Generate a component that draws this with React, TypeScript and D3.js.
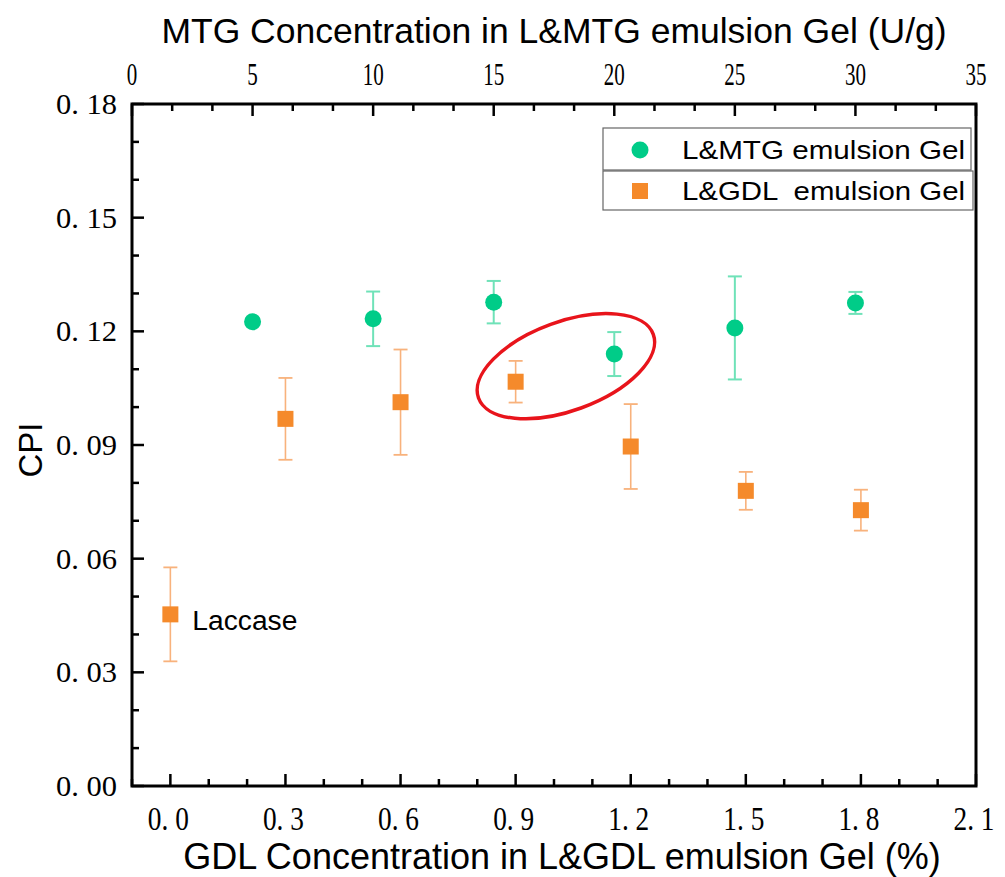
import React from "react";
import * as d3 from "d3";

// ---------- data ----------
const mtgConc = [5, 10, 15, 20, 25, 30];
const mtgCPI = [0.1225, 0.1233, 0.1277, 0.114, 0.1209, 0.1275];
const mtgErr = [0.0009, 0.0072, 0.0056, 0.0058, 0.0136, 0.0029];

const gdlConc = [0, 0.3, 0.6, 0.9, 1.2, 1.5, 1.8];
const gdlCPI = [0.0453, 0.0969, 0.1013, 0.1067, 0.0896, 0.0779, 0.0728];
const gdlErr = [0.0124, 0.0108, 0.0139, 0.0055, 0.0112, 0.005, 0.0054];

const yTicks = [0, 0.03, 0.06, 0.09, 0.12, 0.15, 0.18];
const yTickLabels = ["0. 00", "0. 03", "0. 06", "0. 09", "0. 12", "0. 15", "0. 18"];
const bottomTicks = [0, 0.3, 0.6, 0.9, 1.2, 1.5, 1.8, 2.1];
const bottomTickLabels = ["0. 0", "0. 3", "0. 6", "0. 9", "1. 2", "1. 5", "1. 8", "2. 1"];
const topTicks = [0, 5, 10, 15, 20, 25, 30, 35];
const topTickLabels = ["0", "5", "10", "15", "20", "25", "30", "35"];

const seriesNames = ["L&MTG emulsion Gel", "L&GDL  emulsion Gel"];
const laccaseLabel = "Laccase";
// highlighted ellipse annotation (centre in bottom-axis / CPI units)
const ellipseCenter = [1.031, 0.1108];

// ---------- layout ----------
const W = 1005;
const H = 877;
const L = 132, R = 976, T = 104, B = 786;

const GREEN = "#00cc88";
const GREEN_ERR = "#6fe2b8";
const ORANGE = "#f58a2b";
const ORANGE_ERR = "#f8b27c";

export default function App() {
  const y = d3.scaleLinear().domain([0, 0.18]).range([B, T]);
  const xb = d3.scaleLinear().domain([-0.1, 2.1]).range([L, R]);
  const xt = d3.scaleLinear().domain([0, 35]).range([L, R]);

  const yMinor = d3.range(0, 19).map((i) => i * 0.01).filter((v) => Math.round(v * 100) % 3 !== 0);
  const bMinor = d3.range(-1, 22).map((i) => i / 10).filter((v) => Math.round(v * 10) % 3 !== 0);
  const tMinor = d3.range(0, 22).map((i) => (i * 5) / 3).filter((_, i) => i % 3 !== 0);

  const tickW = 2.5;
  const major = 12;
  const minor = 7;
  const serif = "'Liberation Serif', 'DejaVu Serif', serif";
  const sans = "'Liberation Sans', Arial, sans-serif";

  const cap = 7;

  return (
    <svg
      width={W}
      height={H}
      style={{ position: "absolute", left: 0, top: 0, background: "#fff" }}
      xmlns="http://www.w3.org/2000/svg"
    >
      <rect x={0} y={0} width={W} height={H} fill="#fff" />

      {/* ticks: left */}
      {yTicks.map((v, i) => (
        <line key={"ym" + i} x1={L} x2={L + major} y1={y(v)} y2={y(v)} stroke="#000" strokeWidth={tickW} />
      ))}
      {yMinor.map((v, i) => (
        <line key={"yn" + i} x1={L} x2={L + minor} y1={y(v)} y2={y(v)} stroke="#000" strokeWidth={tickW} />
      ))}
      {/* ticks: bottom */}
      {bottomTicks.map((v, i) => (
        <line key={"bm" + i} x1={xb(v)} x2={xb(v)} y1={B} y2={B - major} stroke="#000" strokeWidth={tickW} />
      ))}
      {bMinor.map((v, i) => (
        <line key={"bn" + i} x1={xb(v)} x2={xb(v)} y1={B} y2={B - minor} stroke="#000" strokeWidth={tickW} />
      ))}
      {/* ticks: top */}
      {topTicks.map((v, i) => (
        <line key={"tm" + i} x1={xt(v)} x2={xt(v)} y1={T} y2={T + major} stroke="#000" strokeWidth={tickW} />
      ))}
      {tMinor.map((v, i) => (
        <line key={"tn" + i} x1={xt(v)} x2={xt(v)} y1={T} y2={T + minor} stroke="#000" strokeWidth={tickW} />
      ))}

      {/* frame */}
      <rect x={L} y={T} width={R - L} height={B - T} fill="none" stroke="#000" strokeWidth={3} />

      {/* tick labels */}
      {yTicks.map((v, i) => (
        <text
          key={"yl" + i}
          x={117}
          y={y(v) + 10}
          textAnchor="end"
          fontFamily={serif}
          fontSize={29}
          textLength={61}
          lengthAdjust="spacingAndGlyphs"
          style={{ whiteSpace: "pre" }}
        >
          {yTickLabels[i]}
        </text>
      ))}
      {bottomTicks.map((v, i) => (
        <text
          key={"bl" + i}
          x={xb(v) - 2}
          y={830}
          textAnchor="middle"
          fontFamily={serif}
          fontSize={34}
          textLength={41}
          lengthAdjust="spacingAndGlyphs"
          style={{ whiteSpace: "pre" }}
        >
          {bottomTickLabels[i]}
        </text>
      ))}
      {topTicks.map((v, i) => (
        <text
          key={"tl" + i}
          x={xt(v)}
          y={85}
          textAnchor="middle"
          fontFamily={serif}
          fontSize={32}
          textLength={topTickLabels[i].length * 10.5}
          lengthAdjust="spacingAndGlyphs"
        >
          {topTickLabels[i]}
        </text>
      ))}

      {/* axis titles */}
      <text x={554} y={43} textAnchor="middle" fontFamily={sans} fontSize={35.5}>
        MTG Concentration in L&amp;MTG emulsion Gel (U/g)
      </text>
      <text x={562} y={869} textAnchor="middle" fontFamily={sans} fontSize={36}>
        GDL Concentration in L&amp;GDL emulsion Gel (%)
      </text>
      <text
        transform={`translate(42, 450) rotate(-90)`}
        textAnchor="middle"
        fontFamily={sans}
        fontSize={33}
      >
        CPI
      </text>

      {/* GDL series (bottom axis) */}
      {gdlConc.map((c, i) => {
        const cx = xb(c);
        const y1 = y(gdlCPI[i] + gdlErr[i]);
        const y2 = y(gdlCPI[i] - gdlErr[i]);
        return (
          <g key={"g" + i}>
            <line x1={cx} x2={cx} y1={y1} y2={y2} stroke={ORANGE_ERR} strokeWidth={1.6} />
            <line x1={cx - cap} x2={cx + cap} y1={y1} y2={y1} stroke={ORANGE_ERR} strokeWidth={1.8} />
            <line x1={cx - cap} x2={cx + cap} y1={y2} y2={y2} stroke={ORANGE_ERR} strokeWidth={1.8} />
            <rect x={cx - 8} y={y(gdlCPI[i]) - 8} width={16} height={16} fill={ORANGE} />
          </g>
        );
      })}

      {/* MTG series (top axis) */}
      {mtgConc.map((c, i) => {
        const cx = xt(c);
        const y1 = y(mtgCPI[i] + mtgErr[i]);
        const y2 = y(mtgCPI[i] - mtgErr[i]);
        return (
          <g key={"m" + i}>
            <line x1={cx} x2={cx} y1={y1} y2={y2} stroke={GREEN_ERR} strokeWidth={2} />
            <line x1={cx - cap} x2={cx + cap} y1={y1} y2={y1} stroke={GREEN_ERR} strokeWidth={2} />
            <line x1={cx - cap} x2={cx + cap} y1={y2} y2={y2} stroke={GREEN_ERR} strokeWidth={2} />
            <circle cx={cx} cy={y(mtgCPI[i])} r={8.5} fill={GREEN} />
          </g>
        );
      })}

      {/* Laccase label */}
      <text
        x={xb(gdlConc[0]) + 22}
        y={y(gdlCPI[0]) + 16}
        fontFamily={sans}
        fontSize={27}
        textLength={105}
        lengthAdjust="spacingAndGlyphs"
      >
        {laccaseLabel}
      </text>

      {/* red ellipse */}
      <ellipse
        cx={xb(ellipseCenter[0])}
        cy={y(ellipseCenter[1])}
        rx={93}
        ry={44.5}
        transform={`rotate(-20, ${xb(ellipseCenter[0])}, ${y(ellipseCenter[1])})`}
        fill="none"
        stroke="#e8141b"
        strokeWidth={3.5}
      />

      {/* legend */}
      <rect x={603} y={128} width={368} height={42} fill="#fff" stroke="#666" strokeWidth={1.2} />
      <rect x={603} y={171} width={370} height={39} fill="#fff" stroke="#666" strokeWidth={1.2} />
      <circle cx={640} cy={150} r={8.5} fill={GREEN} />
      <rect x={632} y={183} width={16} height={16} fill={ORANGE} />
      <text
        x={682}
        y={159}
        fontFamily={sans}
        fontSize={26}
        textLength={283}
        lengthAdjust="spacingAndGlyphs"
      >
        {seriesNames[0]}
      </text>
      <text
        x={682}
        y={200}
        fontFamily={sans}
        fontSize={26}
        textLength={283}
        lengthAdjust="spacingAndGlyphs"
        style={{ whiteSpace: "pre" }}
      >
        {seriesNames[1]}
      </text>
    </svg>
  );
}
